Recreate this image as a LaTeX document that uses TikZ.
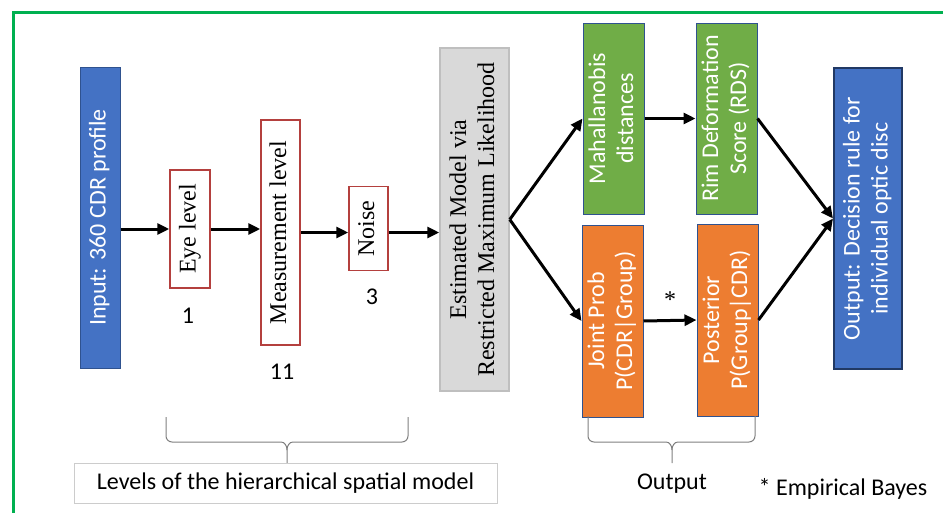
\documentclass[tikz,border=0pt]{standalone}
\usepackage{fontspec}
\setmainfont{Liberation Serif}
\setsansfont{Carlito}
\usetikzlibrary{arrows.meta}

\definecolor{offblue}{HTML}{4472C4}
\definecolor{offline}{HTML}{2F528F}
\definecolor{offgreen}{HTML}{70AD47}
\definecolor{offorange}{HTML}{ED7D31}
\definecolor{offgray}{HTML}{D9D9D9}
\definecolor{levelred}{HTML}{B4403E}
\definecolor{framegreen}{HTML}{00B050}

\newcommand{\uptext}[1]{\rotatebox{90}{\begin{tabular}{@{}c@{}}#1\end{tabular}}}

\tikzset{
    colbox/.style={draw=offline, line width=1pt, inner sep=0pt, text=white, font=\fontsize{24}{28}\selectfont\sffamily},
    levelbox/.style={draw=levelred, line width=1.5pt, fill=white, inner sep=0pt},
    note/.style={font=\fontsize{24}{28}\selectfont\sffamily},
    arr/.style={line width=3pt, -{Triangle[length=12pt,width=11pt]}},
    brace/.style={draw=black!50, line width=1pt},
}

\begin{document}
\begin{tikzpicture}[x=1pt, y=-1pt, font=\fontsize{24}{28}\selectfont]
        \useasboundingbox (0,0) rectangle (943,512);
        \draw[framegreen, line width=3pt] (13.5,12) rectangle (980,560);

        % Input and levels
        \node[colbox, fill=offblue, minimum width=40, minimum height=301] (input) at (100,217.5) {\uptext{Input: 360 CDR profile}};
        \node[levelbox, minimum width=40, minimum height=118] (eye) at (190,229) {\uptext{Eye level}};
        \node[levelbox, minimum width=39, minimum height=225] (meas) at (280.5,232.5) {\uptext{Measurement level}};
        \node[levelbox, minimum width=39, minimum height=84] (noise) at (368.5,228.5) {\uptext{Noise}};
        \node[note] (neye) at (188,316) {1};
        \node[note] (nmeas) at (282,372) {11};
        \node[note] (nnoise) at (372,297) {3};

        % Estimated model
        \node[draw=black!25, line width=1.5pt, fill=offgray, inner sep=0pt, minimum width=69, minimum height=343] (est) at (474.5,219.5)
            {\uptext{Estimated Model via\\Restricted Maximum Likelihood}};

        % Outputs
        \node[colbox, fill=offgreen, minimum width=61, minimum height=191] (mahal) at (613.5,118.5) {\uptext{Mahallanobis\\distances}};
        \node[colbox, fill=offgreen, minimum width=61, minimum height=191] (rds) at (726.5,118.5) {\uptext{Rim Deformation\\Score (RDS)}};
        \node[colbox, fill=offorange, minimum width=61, minimum height=192] (joint) at (612.5,321) {\uptext{Joint Prob\\P(CDR|Group)}};
        \node[colbox, fill=offorange, minimum width=61, minimum height=192] (post) at (727.5,320) {\uptext{Posterior\\P(Group|CDR)}};
        \node[colbox, draw=offline!70!black, line width=2pt, fill=offblue, minimum width=68, minimum height=301] (out) at (868,218.5)
            {\uptext{Output: Decision rule for\\individual optic disc}};

        % Arrows
        \draw[arr] (input.east |- eye.west) -- (eye.west);
        \draw[arr] (eye.east) -- (meas.west |- eye.east);
        \draw[arr] (meas.east) -- (noise.west |- meas.east);
        \draw[arr] (noise.east |- meas.east) -- (est.west |- meas.east);
        \draw[arr] (est.east) -- (mahal.west);
        \draw[arr] (est.east) -- (joint.west);
        \draw[arr] (mahal.east) -- (rds.west);
        \draw[arr] (joint.east) -- node[above=8pt] (star) {*} (post.west);
        \draw[arr] (rds.east) -- (out.west);
        \draw[arr] (post.east) -- (out.west);

        % Braces and notes
        \draw[brace] (166,417) -- (166,436) to[out=-90,in=180] (172,442) -- (281,442) to[out=0,in=90] (287,450) -- (287,463);
        \draw[brace] (408,417) -- (408,436) to[out=-90,in=0] (402,442) -- (293,442) to[out=180,in=90] (287,450);
        \node[note, draw=black!20, line width=1pt, minimum width=423, minimum height=40] (levels) at (285.5,483)
            {Levels of the hierarchical spatial model};
        \draw[brace] (588,416) -- (588,436) to[out=-90,in=180] (594,442) -- (666,442) to[out=0,in=90] (672,450) -- (672,463);
        \draw[brace] (755,416) -- (755,436) to[out=-90,in=0] (749,442) -- (678,442) to[out=180,in=90] (672,450);
        \node[note] (outlab) at (672,484) {Output};
        \node[note] (bayes) at (843,489) {* Empirical Bayes};
\end{tikzpicture}
\end{document}
